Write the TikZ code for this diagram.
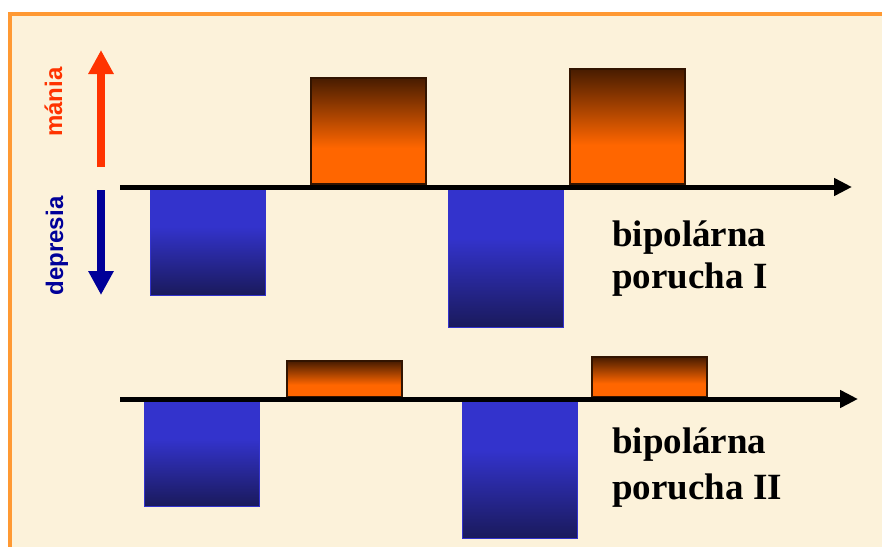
\documentclass[tikz,border=0pt]{standalone}
\usepackage{fontspec}
\setmainfont{Liberation Serif}
\setsansfont{Liberation Sans}
\usetikzlibrary{arrows.meta}

\definecolor{paper}{RGB}{252,242,218}
\definecolor{frameorange}{RGB}{255,153,51}
\definecolor{maniared}{RGB}{255,51,0}
\definecolor{depblue}{RGB}{0,0,153}
\definecolor{barorange}{RGB}{255,102,0}
\definecolor{barbrown}{RGB}{72,28,0}
\definecolor{barblue}{RGB}{51,51,204}
\definecolor{barnavy}{RGB}{26,26,92}

% vertical fills of the episode bars (0bp = bottom, 100bp = top)
\pgfdeclareverticalshading{maniashade}{100bp}{color(0bp)=(barorange); color(25bp)=(barorange); color(42bp)=(barorange); color(75bp)=(barbrown); color(100bp)=(barbrown)}
\pgfdeclareverticalshading{depshade}{100bp}{color(0bp)=(barnavy); color(25bp)=(barnavy); color(57bp)=(barblue); color(100bp)=(barblue)}

\tikzset{
  manbar/.style={shading=maniashade, draw=barbrown!70!black, line width=1.2pt},
  depbar/.style={shading=depshade, draw=barblue, line width=1pt},
  timeaxis/.style={line width=5pt, -{Triangle[length=18pt,width=17pt]}},
  moodarrow/.style={line width=8pt, -{Triangle[length=24pt,width=24pt]}},
  axislabel/.style={font=\sffamily\bfseries\fontsize{24}{28}\selectfont, rotate=90, inner sep=0pt, anchor=base},
  caption/.style={font=\bfseries\fontsize{37}{45}\selectfont, inner sep=0pt, anchor=base west}
}

\begin{document}
\begin{tikzpicture}[x=1pt, y=-1pt]
  \useasboundingbox (0,0) rectangle (882,546);
  \fill[white] (0,0) rectangle (882,546);

  % page with orange frame
  \begin{scope}
    \clip (0,0) rectangle (882,546);
    \fill[paper] (10,14) rectangle (900,570);
    \draw[frameorange, line width=4pt] (10,14) rectangle (900,570);
  \end{scope}

  % mood direction arrows and their labels
  \coordinate (maniaA) at (101,167);
  \coordinate (maniaB) at (101,50);
  \coordinate (depA) at (101,190);
  \coordinate (depB) at (101,295);
  \draw[moodarrow, maniared] (maniaA) -- (maniaB);
  \draw[moodarrow, depblue] (depA) -- (depB);
  \node[axislabel, text=maniared] (lblmania) at (62,102) {mánia};
  \node[axislabel, text=depblue] (lbldep) at (63,246) {depresia};

  % course of bipolar disorder I
  \shadedraw[depbar] (150,188) rectangle (265,295);
  \shadedraw[manbar] (311,78) rectangle (426,184);
  \shadedraw[depbar] (448,188) rectangle (563,327);
  \shadedraw[manbar] (570,69) rectangle (685,184);
  \coordinate (axisIa) at (120,187);
  \coordinate (axisIb) at (852,187);
  \draw[timeaxis] (axisIa) -- (axisIb);
  \node[caption] (capIa) at (612,246) {bipolárna};
  \node[caption] (capIb) at (612,288) {porucha I};

  % course of bipolar disorder II
  \shadedraw[depbar] (144,401) rectangle (259,506);
  \shadedraw[manbar] (287,361) rectangle (402,397);
  \shadedraw[depbar] (462,401) rectangle (577,538);
  \shadedraw[manbar] (592,357) rectangle (707,397);
  \coordinate (axisIIa) at (120,399);
  \coordinate (axisIIb) at (858,399);
  \draw[timeaxis] (axisIIa) -- (axisIIb);
  \node[caption] (capIIa) at (612,453) {bipolárna};
  \node[caption] (capIIb) at (612,499) {porucha II};
\end{tikzpicture}
\end{document}
